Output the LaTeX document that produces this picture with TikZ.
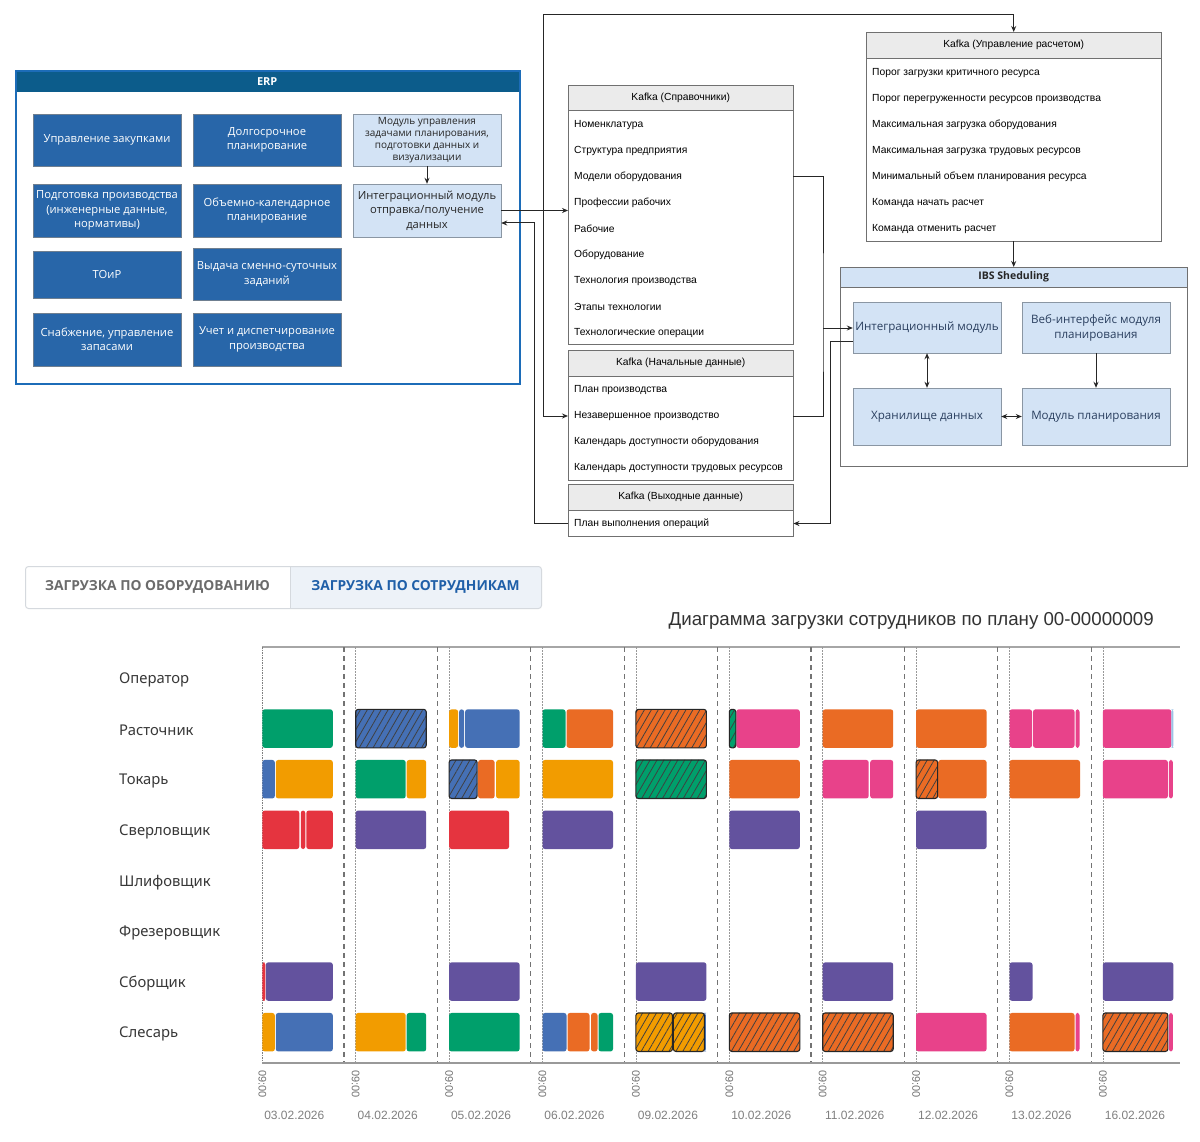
\documentclass[tikz,border=0pt]{standalone}
\usepackage{fontspec}
\setmainfont{Liberation Sans}
\newfontfamily\erpfont{Open Sans}
\newfontfamily\chartfont{Noto Sans}
\usetikzlibrary{arrows.meta,patterns.meta,calc}
\definecolor{erpblue}{HTML}{1C6CB8}
\definecolor{erphead}{HTML}{0C5C8B}
\definecolor{erpdark}{HTML}{2866A9}
\definecolor{erpedge}{HTML}{6F7F90}
\definecolor{lightbox}{HTML}{D3E3F5}
\definecolor{lightedge}{HTML}{8A96A3}
\definecolor{kgray}{HTML}{707070}
\definecolor{khead}{HTML}{EBEBEB}
\definecolor{ibstext}{HTML}{2A3F5F}
\definecolor{tabborder}{HTML}{D5D9DE}
\definecolor{tabfill}{HTML}{EDF2F8}
\definecolor{tabgrey}{HTML}{6B6B6B}
\definecolor{tabblue}{HTML}{1F5FA8}
\definecolor{cgreen}{HTML}{009F6B}
\definecolor{cblue}{HTML}{4570B5}
\definecolor{corange}{HTML}{EA6B24}
\definecolor{cyellow}{HTML}{F29C00}
\definecolor{cred}{HTML}{E5343F}
\definecolor{cpurple}{HTML}{63529E}
\definecolor{cpink}{HTML}{E8428A}
\definecolor{clblue}{HTML}{9BC3E6}
\newcommand\ganttbar[5]{\fill[#5, rounded corners=2.5pt] ({262.3+93.4*#1+#3},{678+50.6*#2-19.25}) rectangle ({262.3+93.4*#1+#4},{678+50.6*#2+19.25});}
\newcommand\gantthatch[5]{%
\fill[#5, rounded corners=2.5pt] ({262.3+93.4*#1+#3},{678+50.6*#2-19.25}) rectangle ({262.3+93.4*#1+#4},{678+50.6*#2+19.25});
\path[pattern={Lines[angle=60,distance=6pt,line width=0.8pt]}, pattern color=black!75, rounded corners=2.5pt] ({262.3+93.4*#1+#3},{678+50.6*#2-19.25}) rectangle ({262.3+93.4*#1+#4},{678+50.6*#2+19.25});
\draw[black!85, line width=1.1pt, rounded corners=2.5pt] ({262.3+93.4*#1+#3},{678+50.6*#2-19.25}) rectangle ({262.3+93.4*#1+#4},{678+50.6*#2+19.25});}
\begin{document}
\begin{tikzpicture}[x=1pt,y=-1pt,
  erpbox/.style={draw=erpedge, fill=erpdark, text=white, font=\erpfont\fontsize{11.2}{14.5}\selectfont, align=center, inner sep=0pt, minimum width=148pt, minimum height=52pt},
  erplight/.style={draw=lightedge, fill=lightbox, text=black!85, font=\erpfont\fontsize{11.2}{14.5}\selectfont, align=center, inner sep=0pt, minimum width=148pt, minimum height=52pt},
  khead/.style={draw=kgray, fill=khead, minimum width=225pt, minimum height=26pt, inner sep=0pt, anchor=north west, font=\fontsize{10.3}{12}\selectfont},
  kbody/.style={draw=kgray, fill=white, minimum width=225pt, inner sep=0pt, anchor=north west},
  kitem/.style={anchor=west, inner sep=0pt, font=\fontsize{10.3}{12}\selectfont},
  ibsbox/.style={draw=lightedge, fill=lightbox, text=ibstext, font=\erpfont\fontsize{11.6}{15}\selectfont, align=center, inner sep=0pt, minimum width=148pt, minimum height=51pt},
  conn/.style={draw=black!85, line width=1pt},
  arr/.style={-{Stealth[length=6pt,width=5pt]}},
  darr/.style={{Stealth[length=6pt,width=5pt]}-{Stealth[length=6pt,width=5pt]}},
  tabtext/.style={font=\erpfont\bfseries\fontsize{13.8}{16}\selectfont, inner sep=0pt},
  rowlab/.style={anchor=west, inner sep=0pt, text=black!78, font=\chartfont\fontsize{14.8}{16}\selectfont},
  datelab/.style={inner sep=0pt, text=black!50, font=\fontsize{12}{14}\selectfont},
  timelab/.style={inner sep=0pt, rotate=-90, anchor=west, text=black!55, font=\fontsize{11}{13}\selectfont}]
\useasboundingbox (0,0) rectangle (1200,1142);
\fill[white] (0,0) rectangle (1200,1142);

% ---------- ERP ----------
\node[fill=erphead, minimum width=504pt, minimum height=22pt, anchor=north west, inner sep=0pt, text=white, font=\erpfont\bfseries\fontsize{11}{13}\selectfont] (erph) at (15,70) {ERP};
\node[draw=erpblue, line width=2.2pt, minimum width=504pt, minimum height=313pt, anchor=north west, inner sep=0pt] (erp) at (15,70) {};
\node[erpbox] (e11) at (107,140) {Управление закупками};
\node[erpbox] (e12) at (267,140) {Долгосрочное\\планирование};
\node[erpbox, minimum height=53pt] (e21) at (107,210.5) {Подготовка производства\\(инженерные данные,\\нормативы)};
\node[erpbox, minimum height=53pt] (e22) at (267,210.5) {Объемно-календарное\\планирование};
\node[erpbox, minimum height=47pt] (e31) at (107,274.5) {ТОиР};
\node[erpbox] (e32) at (267,274) {Выдача сменно-суточных\\заданий};
\node[erpbox, minimum height=53pt] (e41) at (107,339.5) {Снабжение, управление\\запасами};
\node[erpbox, minimum height=53pt] (e42) at (267,339.5) {Учет и диспетчирование\\производства};
\node[erplight, font=\erpfont\fontsize{10}{12.2}\selectfont] (emod) at (427,140) {Модуль управления\\задачами планирования,\\подготовки данных и\\визуализации};
\node[erplight, minimum height=53pt] (eint) at (427,210.5) {Интеграционный модуль\\отправка/получение\\данных};
\draw[conn,arr] (emod.south) -- (eint.north);

% ---------- Kafka tables ----------
\node[khead] (ksh) at (568,85) {Kafka (Справочники)};
\node[kbody, minimum height=234pt] (ksb) at (568,110) {};
\foreach \t [count=\i from 0] in {Номенклатура, Структура предприятия, Модели оборудования, Профессии рабочих, Рабочие, Оборудование, Технология производства, Этапы технологии, Технологические операции}
  \node[kitem] (ks\i) at (574,{125+26*\i}) {\t};

\node[khead] (knh) at (568,350) {Kafka (Начальные данные)};
\node[kbody, minimum height=104pt] (knb) at (568,376) {};
\foreach \t [count=\i from 0] in {План производства, Незавершенное производство, Календарь доступности оборудования, Календарь доступности трудовых ресурсов}
  \node[kitem] (kn\i) at (574,{390+26*\i}) {\t};

\node[khead] (koh) at (568,484) {Kafka (Выходные данные)};
\node[kbody, minimum height=26pt] (kob) at (568,510) {};
\node[kitem] (ko0) at (574,523.5) {План выполнения операций};

\node[khead, minimum width=295pt] (kuh) at (866,32) {Kafka (Управление расчетом)};
\node[kbody, minimum width=295pt, minimum height=183pt] (kub) at (866,58) {};
\foreach \t [count=\i from 0] in {Порог загрузки критичного ресурса, Порог перегруженности ресурсов производства, Максимальная загрузка оборудования, Максимальная загрузка трудовых ресурсов, Минимальный объем планирования ресурса, Команда начать расчет, Команда отменить расчет}
  \node[kitem] (ku\i) at (872,{73+26*\i}) {\t};

% ---------- IBS ----------
\node[draw=kgray, fill=white, minimum width=347pt, minimum height=199pt, anchor=north west, inner sep=0pt] (ibs) at (840,267) {};
\node[draw=kgray, fill=lightbox, minimum width=347pt, minimum height=20pt, anchor=north west, inner sep=0pt, font=\erpfont\bfseries\fontsize{10.5}{12}\selectfont, text=black!85] (ibsh) at (840,267) {IBS Sheduling};
\node[ibsbox] (iint) at (927,327.5) {Интеграционный модуль};
\node[ibsbox] (iweb) at (1096,327.5) {Веб-интерфейс модуля\\планирования};
\node[ibsbox, minimum height=57pt] (istore) at (927,416.5) {Хранилище данных};
\node[ibsbox, minimum height=57pt] (iplan) at (1096,416.5) {Модуль планирования};
\draw[conn,darr] (iint.south) -- (istore.north);
\draw[conn,arr] (iweb.south) -- (iplan.north);
\draw[conn,darr] (istore.east) -- (iplan.west);

% ---------- connectors ----------
\coordinate (busA) at (543,15);
\coordinate (busB) at (534,223);
\coordinate (busC) at (823,328);
\coordinate (busD) at (830,341);
\draw[conn,arr] (eint.east) -- (eint.east -| ksb.west);
\draw[conn,arr] (eint.east -| busA) -- (busA) -| (kuh.north);
\draw[conn,arr] (eint.east -| busA) |- (knb.west |- kn1);
\draw[conn,arr] (kob.west |- ko0) -| (busB) -- (busB -| eint.east);
\draw[conn] (ksb.east |- ks2) -| (busC) |- (knb.east |- kn1);
\draw[conn,arr] (busC) -- (busC -| iint.west);
\draw[conn,arr] (busD -| iint.west) -- (busD) |- (kob.east |- ko0);
\draw[conn,arr] (kub.south) -- (ibsh.north);

% ---------- tabs ----------
\fill[tabfill] (290,566.5) rectangle (540.5,607.5);
\node[draw=tabborder, line width=1pt, rounded corners=3pt, minimum width=516pt, minimum height=42pt, anchor=north west, inner sep=0pt] (tabs) at (25,566) {};
\draw[tabborder, line width=1pt] (290,566.5) -- (290,607.5);
\node[tabtext, text=tabgrey] (tab1) at (157.5,587) {ЗАГРУЗКА ПО ОБОРУДОВАНИЮ};
\node[tabtext, text=tabblue] (tab2) at (415.5,587) {ЗАГРУЗКА ПО СОТРУДНИКАМ};

% ---------- chart ----------
\node[anchor=east, inner sep=0pt, text=black!80, font=\fontsize{18.7}{20}\selectfont] (title) at (1154,621) {Диаграмма загрузки сотрудников по плану 00-00000009};
\draw[black!35, line width=1.5pt] (262.3,647) -- (1180,647);
\foreach \d in {1,...,9} {
  \draw[black!55, line width=1.3pt, dash pattern=on 5pt off 4pt] ({262.3+93.4*\d-11.7},647) -- ({262.3+93.4*\d-11.7},1063);
  \draw[black!40, line width=0.8pt, dash pattern=on 1.5pt off 1.5pt] ({262.3+93.4*\d},647) -- ({262.3+93.4*\d},1063);
}
\draw[black!50, line width=0.9pt, dash pattern=on 1.5pt off 1pt] (262.3,647) -- (262.3,1063);
\draw[black!40, line width=2pt] (262.3,1063) -- (1180,1063);

\foreach \t [count=\i from 0] in {Оператор, Расточник, Токарь, Сверловщик, Шлифовщик, Фрезеровщик, Сборщик, Слесарь}
  \node[rowlab] (row\i) at (119,{680+50.6*\i}) {\t};
\foreach \t [count=\i from 0] in {03.02.2026, 04.02.2026, 05.02.2026, 06.02.2026, 09.02.2026, 10.02.2026, 11.02.2026, 12.02.2026, 13.02.2026, 16.02.2026} {
  \node[timelab] (tm\i) at ({262.3+93.4*\i},1070) {09:00};
  \node[datelab] (dt\i) at ({262.3+93.4*\i+32},1115) {\t};
}

% Расточник (row 1)
\ganttbar{0}{1}{0}{70.5}{cgreen}
\gantthatch{1}{1}{0}{70.5}{cblue}
\ganttbar{2}{1}{0}{9}{cyellow}
\ganttbar{2}{1}{10}{15}{cblue}
\ganttbar{2}{1}{16}{70.5}{cblue}
\ganttbar{3}{1}{0}{23}{cgreen}
\ganttbar{3}{1}{24}{70.5}{corange}
\gantthatch{4}{1}{0}{70.5}{corange}
\ganttbar{5}{1}{7}{70.5}{cpink}
\gantthatch{5}{1}{0}{6.5}{cgreen}
\ganttbar{6}{1}{0}{70.5}{corange}
\ganttbar{7}{1}{0}{70.5}{corange}
\ganttbar{8}{1}{0}{22.5}{cpink}
\ganttbar{8}{1}{23.5}{65}{cpink}
\ganttbar{8}{1}{66}{70}{cpink}
\ganttbar{9}{1}{0}{68.5}{cpink}
\ganttbar{9}{1}{68.5}{70.5}{clblue}
% Токарь (row 2)
\ganttbar{0}{2}{0}{12.5}{cblue}
\ganttbar{0}{2}{13.5}{70.5}{cyellow}
\ganttbar{1}{2}{0}{50}{cgreen}
\ganttbar{1}{2}{51}{70.5}{cyellow}
\gantthatch{2}{2}{0}{28}{cblue}
\ganttbar{2}{2}{29}{45.5}{corange}
\ganttbar{2}{2}{47}{70.5}{cyellow}
\ganttbar{3}{2}{0}{70.5}{cyellow}
\gantthatch{4}{2}{0}{70.5}{cgreen}
\ganttbar{5}{2}{0}{70.5}{corange}
\ganttbar{6}{2}{0}{46}{cpink}
\ganttbar{6}{2}{47.5}{70.5}{cpink}
\ganttbar{7}{2}{22}{70.5}{corange}
\gantthatch{7}{2}{0}{21.5}{corange}
\ganttbar{8}{2}{0}{70.5}{corange}
\ganttbar{9}{2}{0}{65}{cpink}
\ganttbar{9}{2}{66}{70}{cpink}
% Сверловщик (row 3)
\ganttbar{0}{3}{0}{37}{cred}
\ganttbar{0}{3}{38.5}{43}{cred}
\ganttbar{0}{3}{44}{70.5}{cred}
\ganttbar{1}{3}{0}{70.5}{cpurple}
\ganttbar{2}{3}{0}{60}{cred}
\ganttbar{3}{3}{0}{70.5}{cpurple}
\ganttbar{5}{3}{0}{70.5}{cpurple}
\ganttbar{7}{3}{0}{70.5}{cpurple}
% Сборщик (row 6)
\ganttbar{0}{6}{0}{3}{cred}
\ganttbar{0}{6}{3.5}{70.5}{cpurple}
\ganttbar{2}{6}{0}{70.5}{cpurple}
\ganttbar{4}{6}{0}{70.5}{cpurple}
\ganttbar{6}{6}{0}{70.5}{cpurple}
\ganttbar{8}{6}{0}{23}{cpurple}
\ganttbar{9}{6}{0}{70.5}{cpurple}
% Слесарь (row 7)
\ganttbar{0}{7}{0}{12.5}{cyellow}
\ganttbar{0}{7}{13.5}{70.5}{cblue}
\ganttbar{1}{7}{0}{50}{cyellow}
\ganttbar{1}{7}{51}{70.5}{cgreen}
\ganttbar{2}{7}{0}{70.5}{cgreen}
\ganttbar{3}{7}{0}{24}{cblue}
\ganttbar{3}{7}{25}{47}{corange}
\ganttbar{3}{7}{48.5}{55}{corange}
\ganttbar{3}{7}{56}{70.5}{cgreen}
\ganttbar{4}{7}{68}{70}{cblue}
\gantthatch{4}{7}{0}{36.5}{cyellow}
\gantthatch{4}{7}{37.5}{68.5}{cyellow}
\gantthatch{5}{7}{0}{70.5}{corange}
\gantthatch{6}{7}{0}{70.5}{corange}
\ganttbar{7}{7}{0}{70.5}{cpink}
\ganttbar{8}{7}{0}{65}{corange}
\ganttbar{8}{7}{66}{70}{cpink}
\gantthatch{9}{7}{0}{65}{corange}
\ganttbar{9}{7}{66}{70}{cpink}
\end{tikzpicture}
\end{document}
